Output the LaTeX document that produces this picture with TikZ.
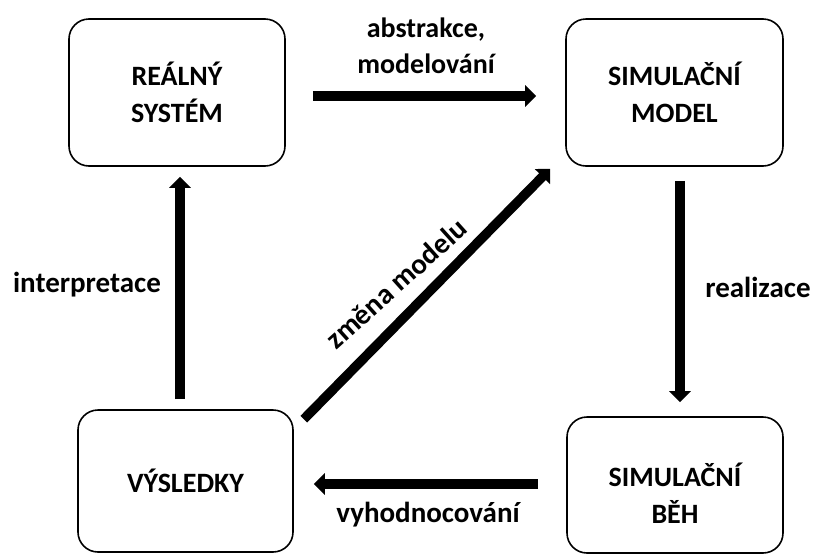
\documentclass[tikz,border=0pt]{standalone}
\usepackage{fontspec}
\setmainfont{Carlito}
\usetikzlibrary{arrows.meta}
\begin{document}
\begin{tikzpicture}[x=1pt,y=-1pt,
  box/.style={draw, line width=1.6pt, rounded corners=20pt, align=center,
    font=\fontsize{28}{37}\selectfont\bfseries, inner sep=0pt},
  fat/.style={line width=9.5pt, -{Triangle[width=21pt,length=11pt]}},
  lbl/.style={font=\fontsize{29}{36}\selectfont\bfseries, inner sep=0pt, align=center}]
\useasboundingbox[fill=white] (0,0) rectangle (813,555);
\node[box, minimum width=216pt, minimum height=147pt] (A) at (177,92.5) {REÁLNÝ\\SYSTÉM};
\node[box, minimum width=217pt, minimum height=147pt] (B) at (674.5,92.5) {SIMULAČNÍ\\MODEL};
\node[box, minimum width=216pt, minimum height=136pt, text height=76pt, text depth=0pt] (C) at (675,485) {SIMULAČNÍ\\BĚH};
\node[box, minimum width=215pt, minimum height=142pt] (D) at (185.5,481) {VÝSLEDKY};
\draw[fat, shorten <=27pt, shorten >=29pt] ([yshift=-3.5pt]A.east) -- ([yshift=-3.5pt]B.west);
\draw[fat, shorten <=14pt, shorten >=14pt] ([xshift=5.5pt]B.south) -- ([xshift=5pt]C.north);
\draw[fat, shorten <=28pt, shorten >=20pt] ([yshift=1pt]C.west) -- ([yshift=-3pt]D.east);
\draw[fat, shorten <=10pt, shorten >=10pt] ([xshift=-5.5pt]D.north) -- ([xshift=3pt]A.south);
\draw[fat] ([shift={(10pt,-10pt)}]D.north east) -- ([shift={(-15pt,-2pt)}]B.south west);
\node[lbl, font=\fontsize{28}{36}\selectfont\bfseries, anchor=base] (labs) at (426,73) {abstrakce,\\modelování};
\node[lbl, anchor=base] (lint) at (87,292) {interpretace};
\node[lbl, anchor=base] (lrea) at (758,297) {realizace};
\node[lbl, anchor=base] (lvyh) at (428,522) {vyhodnocování};
\node[lbl, anchor=base, rotate=42] (lzm) at (403,291) {změna modelu};
\end{tikzpicture}
\end{document}
